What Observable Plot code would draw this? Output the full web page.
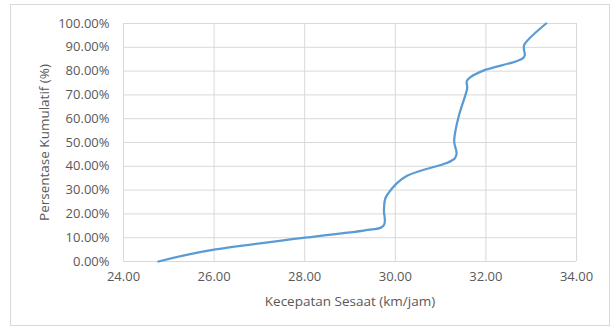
<!DOCTYPE html>
<html>
<head>
<meta charset="utf-8">
<script src="https://cdn.jsdelivr.net/npm/d3@7"></script>
<script src="https://cdn.jsdelivr.net/npm/@observablehq/plot@0.6"></script>
<style>
  html, body { margin: 0; padding: 0; background: #fff; }
  #wrap { position: relative; width: 613px; height: 329px; }
  #border { position: absolute; left: 10px; top: 4px; width: 600px; height: 322px; border: 1px solid #d9d9d9; box-sizing: border-box; pointer-events: none; }
</style>
</head>
<body>
<div id="wrap"><div id="border"></div></div>
<script>
const speed = [24.77, 26.0, 28.0, 29.3, 29.74, 29.75, 29.82, 30.26, 31.15, 31.35, 31.3, 31.4, 31.58, 31.6, 32.0, 32.8, 32.86, 33.33];
const cumPct = [0, 0.05, 0.10, 0.13, 0.15, 0.22, 0.28, 0.36, 0.415, 0.45, 0.51, 0.61, 0.72, 0.765, 0.806, 0.852, 0.915, 1.00];
const xTicks = [24, 26, 28, 30, 32, 34];
const yTicks = [0, 0.1, 0.2, 0.3, 0.4, 0.5, 0.6, 0.7, 0.8, 0.9, 1.0];
const xTitle = "Kecepatan Sesaat (km/jam)";
const yTitle = "Persentase Kumulatif (%)";

const data = speed.map((s, i) => ({speed: s, pct: cumPct[i]}));
const gridColor = "#d9d9d9";
const textColor = "#595959";

const chart = Plot.plot({
  width: 613,
  height: 329,
  marginLeft: 123,
  marginRight: 37,
  marginTop: 23,
  marginBottom: 68,
  style: {fontFamily: "Open Sans", fontSize: "13px", color: textColor, background: "transparent"},
  x: {domain: [24, 34]},
  y: {domain: [0, 1]},
  marks: [
    Plot.gridX(xTicks, {stroke: gridColor, strokeOpacity: 1, strokeWidth: 1}),
    Plot.gridY(yTicks, {stroke: gridColor, strokeOpacity: 1, strokeWidth: 1}),
    Plot.axisX(xTicks, {tickSize: 0, tickPadding: 10, tickFormat: d => d.toFixed(2), fill: textColor, fontSize: 13, label: null}),
    Plot.axisY(yTicks, {tickSize: 0, tickPadding: 14, tickFormat: d => (d * 100).toFixed(2) + "%", fill: textColor, fontSize: 13, label: null}),
    Plot.text([xTitle], {frameAnchor: "bottom", dy: 40, textAnchor: "middle", lineAnchor: "middle", fontSize: 13.5, fill: textColor, text: d => d}),
    Plot.text([yTitle], {frameAnchor: "left", dx: -79, rotate: -90, textAnchor: "middle", lineAnchor: "middle", fontSize: 13.5, fill: textColor, text: d => d}),
    Plot.line(data, {x: "speed", y: "pct", curve: "cardinal", stroke: "#5b9bd5", strokeWidth: 2.25})
  ]
});
document.getElementById("wrap").appendChild(chart);
</script>
</body>
</html>
